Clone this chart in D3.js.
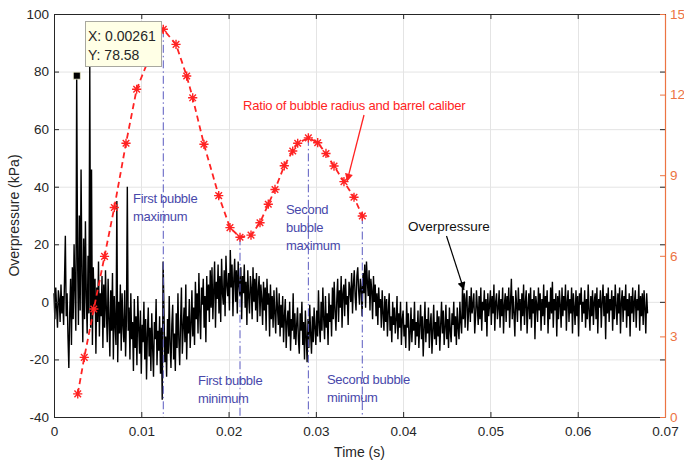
<!DOCTYPE html>
<html>
<head>
<meta charset="utf-8">
<script src="https://cdn.jsdelivr.net/npm/d3@7"></script>
<style>
  html, body { margin: 0; padding: 0; background: #ffffff; }
  svg { display: block; font-family: "Liberation Sans", Arial, sans-serif; }
</style>
</head>
<body>
<svg id="chart" width="684" height="465"></svg>
<script>
// ---------------- data ----------------
const xTicks = [0, 0.01, 0.02, 0.03, 0.04, 0.05, 0.06, 0.07];
const xTickLabels = ["0", "0.01", "0.02", "0.03", "0.04", "0.05", "0.06", "0.07"];
const yLeftTicks = [-40, -20, 0, 20, 40, 60, 80, 100];
const yLeftTickLabels = ["-40", "-20", "0", "20", "40", "60", "80", "100"];
const yRightTicks = [0, 3, 6, 9, 12, 15];
const yRightTickLabels = ["0", "3", "6", "9", "12", "15"];

// ratio of bubble radius and barrel caliber (right axis)
const ratioTime = [0.00272, 0.00347, 0.00456, 0.00579, 0.00691, 0.00825, 0.00947, 0.01100,
  0.01252, 0.01398, 0.01520, 0.01589, 0.01718, 0.01887, 0.02016, 0.02131, 0.02257, 0.02360,
  0.02455, 0.02532, 0.02638, 0.02735, 0.02792, 0.02914, 0.03021, 0.03116, 0.03208, 0.03322,
  0.03437, 0.03532];
const ratioValue = [0.86, 2.22, 4.02, 5.98, 7.80, 10.19, 12.20, 13.43,
  14.43, 13.87, 12.69, 11.88, 10.15, 8.24, 7.05, 6.69, 6.77, 7.23,
  7.92, 8.47, 9.35, 9.90, 10.19, 10.39, 10.21, 9.81, 9.34, 8.76,
  8.18, 7.48];

// overpressure trace (left axis, kPa), sampled every 0.0001 s from t = 0
const overpressureStart = 0;
const overpressureStep = 0.0001;
const overpressure = [
  3, -6, 5, -2, -9, 4, 1, -7, 6, -4, 2, -8, 7, 23, -5, 3, -12, -23, -4, 8,
  -15, 12, -6, 20, 4, -10, 78.58, 15, -8, 30, -3, 46, 10, -14, 22, -6, 28, 2, -11, 16,
  -4, 82, -9, 46, -15, 12, -2, 8, -18, 5, -7, 14, -12, 3, -5, 9, -16, 6, -9, 11,
  -3, -14, 8, -6, -19, 4, -10, 10, -20, 2, -8, -15, 35, -21, 0, -11, 6, -17, 3, -8,
  -14, 4, -19, -6, 40, -10, -2, -20, 3, -13, -7, -24, 1, -16, -5, -22, 2, -9, -18, -3,
  -25, -8, -14, 0, -20, -6, -27, -11, -2, -19, -9, -24, -4, -16, -26, -7, -13, 1, -22, -10,
  -17, -5, -25, -9, -34, 14, -3, -21, -12, -26, -6, -18, 2, -15, -23, -8, -1, -20, -11, -24,
  -4, -16, 3, -13, -22, -7, 5, -18, -9, -2, -14, 6, -20, -5, -11, 1, -16, -8, 4, -12,
  -2, -15, 7, -6, 3, -11, 10, -4, -13, 5, -1, 8, -9, 2, -14, 9, -3, 6, -7, 11,
  -2, 12, -6, 4, 14, -9, 7, 1, 13, -4, 9, -7, 15, 3, -1, 11, -5, 16, 6, 2,
  10, -3, 18, 5, 13, -5, 8, 15, 0, 11, -4, 14, 6, 2, 12, -6, 9, 3, 13, -2,
  7, -8, 11, 2, -4, 9, 5, -6, 12, 0, 8, -3, 10, -7, 4, 9, -5, 6, 1, -8,
  7, -3, 5, -10, 8, -1, 3, -12, 6, -6, 2, -9, 4, -4, -11, 5, -2, -8, 3, -12,
  -1, -9, 2, -14, -5, 1, -16, -7, -3, -12, 0, -17, -6, -10, 3, -13, -4, -15, -8, -2,
  -13, -18, -4, -10, 0, -15, -7, -20, -3, -12, -21, -6, -16, -1, -11, -18, -5, -14, -2, -9,
  -15, -3, -12, 4, -8, -14, 0, -10, 5, -6, -13, 2, -9, -4, -15, 3, -7, -1, -12, 5,
  -6, 7, -3, -10, 1, 8, -7, 4, -2, 9, -9, 3, 6, -5, 8, -1, 2, -8, 7, 4,
  0, 10, -4, 6, 11, 2, -3, 9, 12, 4, -1, 8, 5, -5, 10, 3, 13, -2, 14, 7,
  2, 11, -3, 8, 4, -6, 9, 0, 6, -5, 3, -8, 5, -2, 1, -9, 4, -4, -10, 2,
  -7, 1, -12, -3, 3, -10, -5, -14, 0, -8, -2, -11, -6, 2, -13, -4, -9, 0, -15, -6,
  -3, -12, -8, -16, 0, -9, -4, -17, -11, -2, -14, -6, -10, 0, -15, -7, -12, -3, -16, -8,
  -1, -13, -5, -19, -9, 0, -14, -6, -11, -2, -16, -8, -4, -18, -10, -1, -13, -7, -15, -3,
  -12, -5, -17, -8, 0, -11, -3, -15, -9, -1, -13, -6, -16, -2, -10, -14, -4, -8, 0, -12,
  -5, -15, -2, -9, -13, 0, -7, -11, 5, -6, 3, -9, 1, 4, -10, -3, 2, -7, 5, -4,
  -1, 3, -11, -5, 4, -2, -8, 2, -6, 5, -10, 0, -3, 4, -7, 1, -12, 3, -5, -1,
  4, -8, 2, -4, 6, -10, 0, 3, -6, -2, 4, -9, 1, -5, 5, -11, -1, 3, -7, 2,
  -3, 5, -9, 0, 8, -6, 2, -4, -12, 4, -1, -7, 5, -3, 1, -10, 3, -5, 6, -8,
  0, 4, -11, -2, 3, -6, 5, -9, 1, -4, 4, -13, 2, -1, -7, 5, -3, 3, -10, 1,
  -5, 6, -8, 2, -2, 4, -11, 0, -6, 5, -4, 7, -9, 1, -3, 3, -12, 2, -6, 4,
  -1, -9, 5, -5, 2, -3, 6, -10, 0, 4, -7, 1, -4, 5, -11, 3, -2, -8, 4, -5,
  2, -12, 3, -1, 5, -7, 0, -4, 4, -9, 1, -6, 6, -3, -10, 2, -5, 4, -8, 0,
  3, -6, 5, -11, 1, -2, 4, -9, 0, 6, -5, 2, -13, 3, -4, 5, -7, 1, -3, 4,
  -10, 2, -6, 6, -1, -8, 3, -4, 5, -11, 0, 4, -7, 2, -3, 6, -9, 1, -5, 3,
  -12, 2, -4, 5, -7, 0, 4, -9, 1, -3, 6, -10, 2, -5, 3, -8, 4, -2, -11, 3,
  -4
];

// events (index into the ratio arrays) with labels
const eventIndex = [8, 15, 23, 29];
const eventLabels = [
  ["First bubble", "maximum"],
  ["First bubble", "minimum"],
  ["Second", "bubble", "maximum"],
  ["Second bubble", "minimum"]
];

const dataTip = { t: 0.00261, v: 78.58, lines: ["X: 0.00261", "Y: 78.58"] };
const ratioLabel = "Ratio of bubble radius and barrel caliber";
const overLabel = "Overpressure";
const xTitle = "Time (s)";
const yTitle = "Overpressure (kPa)";

// ---------------- drawing ----------------
const svg = d3.select("#chart");
const L = 54, R = 665, T = 14, B = 417;
const x = d3.scaleLinear().domain([0, 0.07]).range([L, R]);
const yL = d3.scaleLinear().domain([-40, 100]).range([B, T]);
const yR = d3.scaleLinear().domain([0, 15]).range([B, T]);

const axisColor = "#262626";
const rightColor = "#ec7443";
const blue = "#4848aa";
const red = "#ff2323";

// grid
const grid = svg.append("g");
grid.selectAll("line.h").data(yLeftTicks).join("line")
  .attr("x1", L).attr("x2", R)
  .attr("y1", d => yL(d) + 0.5).attr("y2", d => yL(d) + 0.5)
  .attr("stroke", "#e4e4e4").attr("stroke-width", 1);
grid.selectAll("line.v").data(xTicks).join("line")
  .attr("x1", d => Math.round(x(d)) + 0.5).attr("x2", d => Math.round(x(d)) + 0.5)
  .attr("y1", T).attr("y2", B)
  .attr("stroke", "#e4e4e4").attr("stroke-width", 1);

// overpressure trace
const overData = overpressure.map((v, i) => [overpressureStart + i * overpressureStep, v]);
svg.append("path")
  .datum(overData)
  .attr("fill", "none")
  .attr("stroke", "#000")
  .attr("stroke-width", 1.4)
  .attr("stroke-linejoin", "bevel")
  .attr("d", d3.line().x(d => x(d[0])).y(d => yL(d[1])));

// event vertical dash-dot lines
svg.append("g").selectAll("line").data(eventIndex).join("line")
  .attr("x1", i => x(ratioTime[i])).attr("x2", i => x(ratioTime[i]))
  .attr("y1", i => yR(ratioValue[i])).attr("y2", B)
  .attr("stroke", "#5a5ac0").attr("stroke-width", 1)
  .attr("stroke-dasharray", "8,3,1.5,3");

// ratio dashed line with asterisk markers
const ratioData = ratioTime.map((t, i) => [t, ratioValue[i]]);
svg.append("path")
  .datum(ratioData)
  .attr("fill", "none")
  .attr("stroke", red)
  .attr("stroke-width", 1.8)
  .attr("stroke-dasharray", "6,4")
  .attr("d", d3.line().x(d => x(d[0])).y(d => yR(d[1])));
const r = 4.6, k = 3.3;
svg.append("g").selectAll("path").data(ratioData).join("path")
  .attr("transform", d => `translate(${x(d[0])},${yR(d[1])})`)
  .attr("d", `M${-r},0H${r}M0,${-r}V${r}M${-k},${-k}L${k},${k}M${-k},${k}L${k},${-k}`)
  .attr("stroke", red).attr("stroke-width", 1.4).attr("fill", "none");

// axes: bottom, top, left, right (dark), right (orange)
const fontSize = 13.5;
const gB = svg.append("g").attr("transform", `translate(0,${B})`)
  .call(d3.axisBottom(x).tickValues(xTicks).tickFormat((d, i) => xTickLabels[i])
    .tickSizeInner(-5).tickSizeOuter(0).tickPadding(9));
const gT = svg.append("g").attr("transform", `translate(0,${T})`)
  .call(d3.axisTop(x).tickValues(xTicks).tickFormat("").tickSizeInner(-5).tickSizeOuter(0));
const gL = svg.append("g").attr("transform", `translate(${L},0)`)
  .call(d3.axisLeft(yL).tickValues(yLeftTicks).tickFormat((d, i) => yLeftTickLabels[i])
    .tickSizeInner(-5).tickSizeOuter(0).tickPadding(5));
const gRd = svg.append("g").attr("transform", `translate(${R},0)`)
  .call(d3.axisRight(yL).tickValues(yLeftTicks).tickFormat("").tickSizeInner(-5).tickSizeOuter(0));
[gB, gT, gL, gRd].forEach(g => {
  g.selectAll("path.domain").attr("stroke", axisColor).attr("stroke-width", 1);
  g.selectAll(".tick line").attr("stroke", axisColor);
  g.selectAll(".tick text").attr("fill", axisColor).attr("font-size", fontSize)
    .attr("font-family", "'Liberation Sans', Arial, sans-serif");
});
gRd.select("path.domain").remove();
const gR = svg.append("g").attr("transform", `translate(${R},0)`)
  .call(d3.axisRight(yR).tickValues(yRightTicks).tickFormat((d, i) => yRightTickLabels[i])
    .tickSizeInner(-5).tickSizeOuter(0).tickPadding(5));
gR.selectAll("path.domain").attr("stroke", rightColor).attr("stroke-width", 1.2);
gR.selectAll(".tick line").attr("stroke", rightColor);
gR.selectAll(".tick text").attr("fill", rightColor).attr("font-size", fontSize)
  .attr("font-family", "'Liberation Sans', Arial, sans-serif");

// axis titles
svg.append("text").attr("x", (L + R) / 2).attr("y", 457).attr("text-anchor", "middle")
  .attr("font-size", 14).attr("fill", axisColor).text(xTitle);
svg.append("text").attr("transform", `translate(19,${(T + B) / 2}) rotate(-90)`)
  .attr("text-anchor", "middle").attr("font-size", 14).attr("fill", axisColor).text(yTitle);

// event labels
const labelPos = [[133, 203], [198, 385], [286, 214], [327, 384]];
const lineGap = 18;
eventLabels.forEach((lines, j) => {
  const t = svg.append("text").attr("font-size", 13).attr("fill", blue)
    .attr("letter-spacing", -0.3);
  lines.forEach((s, m) => {
    t.append("tspan").attr("x", labelPos[j][0]).attr("y", labelPos[j][1] + m * lineGap).text(s);
  });
});

// arrows
const defs = svg.append("defs");
function arrowMarker(id, color) {
  defs.append("marker").attr("id", id).attr("viewBox", "0 0 10 10")
    .attr("refX", 10).attr("refY", 5).attr("markerUnits", "userSpaceOnUse")
    .attr("markerWidth", 9).attr("markerHeight", 8).attr("orient", "auto")
    .append("path").attr("d", "M0,0L10,5L0,10z").attr("fill", color);
}
arrowMarker("arRed", red);
arrowMarker("arBlack", "#000");

svg.append("text").attr("x", 243).attr("y", 110).attr("font-size", 13).attr("fill", red)
  .attr("letter-spacing", -0.2).text(ratioLabel);
svg.append("line").attr("x1", 364).attr("y1", 115).attr("x2", x(ratioTime[27]) + 3).attr("y2", yR(ratioValue[27]))
  .attr("stroke", red).attr("stroke-width", 1.3).attr("marker-end", "url(#arRed)");

svg.append("text").attr("x", 408).attr("y", 231).attr("font-size", 13.5).attr("fill", "#111")
  .text(overLabel);
svg.append("line").attr("x1", 446.5).attr("y1", 236).attr("x2", 464).attr("y2", 290)
  .attr("stroke", "#000").attr("stroke-width", 1.2).attr("marker-end", "url(#arBlack)");

// data tip
const mx = x(dataTip.t), my = yL(dataTip.v);
svg.append("rect").attr("x", mx - 3.5).attr("y", my - 3.5).attr("width", 7).attr("height", 7)
  .attr("fill", "#000").attr("stroke", "#e8e8c8").attr("stroke-width", 0.8);
svg.append("rect").attr("x", 85.5).attr("y", 21.5).attr("width", 76).attr("height", 45)
  .attr("fill", "#ffffe6").attr("stroke", "#a8a8a0").attr("stroke-width", 1);
dataTip.lines.forEach((s, m) => {
  svg.append("text").attr("x", 88).attr("y", 41 + m * 19).attr("font-size", 14)
    .attr("fill", "#262626").text(s);
});
</script>
</body>
</html>
